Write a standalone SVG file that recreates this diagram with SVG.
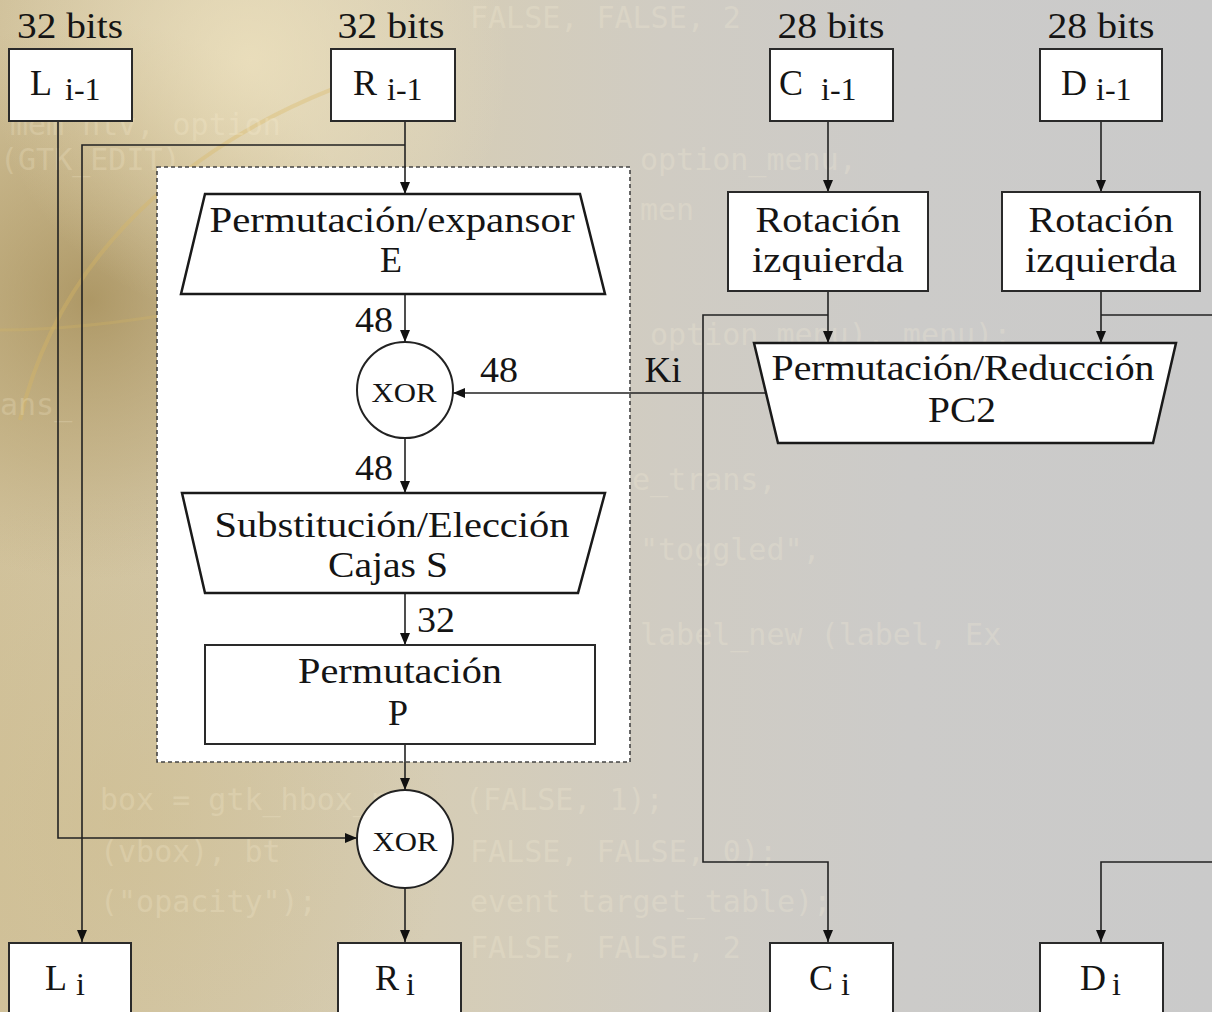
<svg xmlns="http://www.w3.org/2000/svg" width="1212" height="1012" viewBox="0 0 1212 1012">
  <defs>
    <style>
      .t { font-family: 'Liberation Serif', 'Times New Roman', Times, serif; fill: #141414; }
      .lbl { font-size: 35px; }
      .big { font-size: 36px; }
      .sub { font-size: 32px; }
      .xor { font-size: 28px; }
      .box { fill: #ffffff; stroke: #2a2a2a; stroke-width: 2; }
      .trap { fill: #ffffff; stroke: #1a1a1a; stroke-width: 2.5; stroke-linejoin: miter; }
      .wire { fill: none; stroke: #222; stroke-width: 1.6; }
      .code { font-family: 'DejaVu Sans Mono', 'Liberation Mono', monospace; font-size: 30px; fill: #fff6dc; opacity: 0.2; }
    </style>
    <marker id="arr" viewBox="0 0 12 10" refX="12" refY="5" markerWidth="12" markerHeight="10" markerUnits="userSpaceOnUse" orient="auto">
      <path d="M0,0 L12,5 L0,10 z" fill="#111"/>
    </marker>
    <linearGradient id="bgH" x1="0" y1="0" x2="1" y2="0">
      <stop offset="0" stop-color="#d1c29c"/>
      <stop offset="0.35" stop-color="#d6cdb5"/>
      <stop offset="0.55" stop-color="#d0ccc3"/>
      <stop offset="0.75" stop-color="#cccbc9"/>
      <stop offset="1" stop-color="#cacaca"/>
    </linearGradient>
    <radialGradient id="glowDark" cx="90" cy="300" r="280" gradientUnits="userSpaceOnUse">
      <stop offset="0" stop-color="#957a3e" stop-opacity="0.6"/>
      <stop offset="0.6" stop-color="#a88f55" stop-opacity="0.28"/>
      <stop offset="1" stop-color="#b09a66" stop-opacity="0"/>
    </radialGradient>
    <radialGradient id="glowLight" cx="250" cy="60" r="260" gradientUnits="userSpaceOnUse">
      <stop offset="0" stop-color="#f2e6c2" stop-opacity="0.7"/>
      <stop offset="1" stop-color="#f2e6c2" stop-opacity="0"/>
    </radialGradient>
    <radialGradient id="glowLow" cx="120" cy="820" r="330" gradientUnits="userSpaceOnUse">
      <stop offset="0" stop-color="#cdbb8a" stop-opacity="0.45"/>
      <stop offset="1" stop-color="#cdbb8a" stop-opacity="0"/>
    </radialGradient>
  </defs>

  <!-- backdrop: warm wash on the left fading to grey, faint code listing -->
  <g id="backdrop">
    <rect x="0" y="0" width="1212" height="1012" fill="url(#bgH)"/>
    <rect x="0" y="0" width="1212" height="1012" fill="url(#glowLow)"/>
    <rect x="0" y="0" width="1212" height="1012" fill="url(#glowDark)"/>
    <rect x="0" y="0" width="1212" height="1012" fill="url(#glowLight)"/>
    <path d="M20,420 C60,250 200,120 420,60" fill="none" stroke="#d9b860" stroke-opacity="0.35" stroke-width="4"/>
    <path d="M0,330 C120,330 260,300 420,260" fill="none" stroke="#d9b860" stroke-opacity="0.25" stroke-width="3"/>
    <text class="code" x="470" y="28">FALSE, FALSE, 2</text>
    <text class="code" x="10" y="135">mem  ntv, option</text>
    <text class="code" x="0" y="170">(GTK_EDIT)</text>
    <text class="code" x="640" y="170">option_menu,</text>
    <text class="code" x="640" y="220">men</text>
    <text class="code" x="650" y="345">option_menu), menu);</text>
    <text class="code" x="0" y="415">ans_</text>
    <text class="code" x="632" y="490">e_trans,</text>
    <text class="code" x="640" y="560">"toggled",</text>
    <text class="code" x="640" y="645">label_new (label, Ex</text>
    <text class="code" x="100" y="810">box = gtk_hbox_new</text>
    <text class="code" x="465" y="810">(FALSE, 1);</text>
    <text class="code" x="100" y="862">(vbox), bt</text>
    <text class="code" x="470" y="862">FALSE, FALSE, 0);</text>
    <text class="code" x="100" y="912">("opacity");</text>
    <text class="code" x="470" y="912">event target_table);</text>
    <text class="code" x="470" y="958">FALSE, FALSE, 2</text>
  </g>

  <!-- round function frame -->
  <rect id="round-frame" x="157" y="167" width="473" height="595" fill="#ffffff" stroke="#444" stroke-width="1.6" stroke-dasharray="4,3"/>

  <!-- connectors -->
  <g id="connectors">
    <!-- L(i-1) to the final XOR -->
    <path class="wire" d="M58,121 V838 H357" marker-end="url(#arr)"/>
    <!-- R(i-1) into expansion, and copy down to L(i) -->
    <path class="wire" d="M405,121 V194" marker-end="url(#arr)"/>
    <path class="wire" d="M405,145 H82 V942" marker-end="url(#arr)"/>
    <!-- inside the round function -->
    <path class="wire" d="M405,294 V342" marker-end="url(#arr)"/>
    <path class="wire" d="M405,438 V493" marker-end="url(#arr)"/>
    <path class="wire" d="M405,593 V645" marker-end="url(#arr)"/>
    <path class="wire" d="M405,744 V790" marker-end="url(#arr)"/>
    <path class="wire" d="M405,887 V942" marker-end="url(#arr)"/>
    <!-- subkey Ki -->
    <path class="wire" d="M766,393 H453" marker-end="url(#arr)"/>
    <!-- key schedule -->
    <path class="wire" d="M828,121 V192" marker-end="url(#arr)"/>
    <path class="wire" d="M1101,121 V192" marker-end="url(#arr)"/>
    <path class="wire" d="M828,291 V343" marker-end="url(#arr)"/>
    <path class="wire" d="M1101,291 V343" marker-end="url(#arr)"/>
    <path class="wire" d="M828,315 H703 V862 H828 V942" marker-end="url(#arr)"/>
    <path class="wire" d="M1101,315 H1212"/>
    <path class="wire" d="M1212,862 H1101 V942" marker-end="url(#arr)"/>
  </g>

  <!-- width labels -->
  <g id="labels">
    <text class="t lbl" x="70" y="38" text-anchor="middle" textLength="106" lengthAdjust="spacingAndGlyphs">32 bits</text>
    <text class="t lbl" x="391" y="38" text-anchor="middle" textLength="107" lengthAdjust="spacingAndGlyphs">32 bits</text>
    <text class="t lbl" x="831" y="38" text-anchor="middle" textLength="107" lengthAdjust="spacingAndGlyphs">28 bits</text>
    <text class="t lbl" x="1101" y="38" text-anchor="middle" textLength="107" lengthAdjust="spacingAndGlyphs">28 bits</text>
    <text class="t lbl" x="374" y="332" text-anchor="middle" textLength="38" lengthAdjust="spacingAndGlyphs">48</text>
    <text class="t lbl" x="499" y="382" text-anchor="middle" textLength="38" lengthAdjust="spacingAndGlyphs">48</text>
    <text class="t lbl" x="663" y="382" text-anchor="middle" textLength="37" lengthAdjust="spacingAndGlyphs">Ki</text>
    <text class="t lbl" x="374" y="480" text-anchor="middle" textLength="38" lengthAdjust="spacingAndGlyphs">48</text>
    <text class="t lbl" x="436" y="632" text-anchor="middle" textLength="38" lengthAdjust="spacingAndGlyphs">32</text>
  </g>

  <!-- input registers -->
  <g id="node-L-prev">
    <rect class="box" x="9" y="49" width="123" height="72"/>
    <text class="t big" x="30" y="95">L<tspan class="sub" x="65" dy="5">i-1</tspan></text>
  </g>
  <g id="node-R-prev">
    <rect class="box" x="331" y="49" width="124" height="72"/>
    <text class="t big" x="353" y="95">R<tspan class="sub" x="387" dy="5">i-1</tspan></text>
  </g>
  <g id="node-C-prev">
    <rect class="box" x="770" y="49" width="123" height="72"/>
    <text class="t big" x="779" y="95">C<tspan class="sub" x="821" dy="5">i-1</tspan></text>
  </g>
  <g id="node-D-prev">
    <rect class="box" x="1040" y="49" width="122" height="72"/>
    <text class="t big" x="1061" y="95">D<tspan class="sub" x="1096" dy="5">i-1</tspan></text>
  </g>

  <!-- round function -->
  <g id="node-expansion">
    <path class="trap" d="M205,194 H580 L605,294 H181 Z"/>
    <text class="t big" x="392" y="232" text-anchor="middle" textLength="365" lengthAdjust="spacingAndGlyphs">Permutación/expansor</text>
    <text class="t big" x="391" y="272" text-anchor="middle">E</text>
  </g>
  <g id="node-xor-key">
    <circle cx="405" cy="390" r="48" fill="#fff" stroke="#222" stroke-width="2"/>
    <text class="t xor" x="404" y="402" text-anchor="middle" textLength="65" lengthAdjust="spacingAndGlyphs">XOR</text>
  </g>
  <g id="node-sboxes">
    <path class="trap" d="M182,493 H605 L578,593 H205 Z"/>
    <text class="t big" x="392" y="537" text-anchor="middle" textLength="355" lengthAdjust="spacingAndGlyphs">Substitución/Elección</text>
    <text class="t big" x="388" y="577" text-anchor="middle" textLength="120" lengthAdjust="spacingAndGlyphs">Cajas S</text>
  </g>
  <g id="node-pbox">
    <rect class="box" x="205" y="645" width="390" height="99" stroke-width="2.5"/>
    <text class="t big" x="400" y="683" text-anchor="middle" textLength="204" lengthAdjust="spacingAndGlyphs">Permutación</text>
    <text class="t big" x="398" y="725" text-anchor="middle">P</text>
  </g>
  <g id="node-xor-left">
    <ellipse cx="405" cy="839" rx="48" ry="49" fill="#fff" stroke="#222" stroke-width="2"/>
    <text class="t xor" x="405" y="851" text-anchor="middle" textLength="65" lengthAdjust="spacingAndGlyphs">XOR</text>
  </g>

  <!-- key schedule -->
  <g id="node-rot-C">
    <rect class="box" x="728" y="192" width="200" height="99"/>
    <text class="t big" x="828" y="232" text-anchor="middle" textLength="145" lengthAdjust="spacingAndGlyphs">Rotación</text>
    <text class="t big" x="828" y="272" text-anchor="middle" textLength="152" lengthAdjust="spacingAndGlyphs">izquierda</text>
  </g>
  <g id="node-rot-D">
    <rect class="box" x="1002" y="192" width="198" height="99"/>
    <text class="t big" x="1101" y="232" text-anchor="middle" textLength="145" lengthAdjust="spacingAndGlyphs">Rotación</text>
    <text class="t big" x="1101" y="272" text-anchor="middle" textLength="152" lengthAdjust="spacingAndGlyphs">izquierda</text>
  </g>
  <g id="node-pc2">
    <path class="trap" d="M754,343 H1176 L1153,443 H778 Z"/>
    <text class="t big" x="963" y="380" text-anchor="middle" textLength="383" lengthAdjust="spacingAndGlyphs">Permutación/Reducción</text>
    <text class="t big" x="962" y="422" text-anchor="middle" textLength="68" lengthAdjust="spacingAndGlyphs">PC2</text>
  </g>

  <!-- output registers -->
  <g id="node-L-next">
    <rect class="box" x="9" y="943" width="122" height="90"/>
    <text class="t big" x="45" y="990">L<tspan class="sub" x="76" dy="5">i</tspan></text>
  </g>
  <g id="node-R-next">
    <rect class="box" x="338" y="943" width="123" height="90"/>
    <text class="t big" x="375" y="990">R<tspan class="sub" x="406" dy="5">i</tspan></text>
  </g>
  <g id="node-C-next">
    <rect class="box" x="770" y="943" width="123" height="90"/>
    <text class="t big" x="809" y="990">C<tspan class="sub" x="841" dy="5">i</tspan></text>
  </g>
  <g id="node-D-next">
    <rect class="box" x="1040" y="943" width="123" height="90"/>
    <text class="t big" x="1080" y="990">D<tspan class="sub" x="1112" dy="5">i</tspan></text>
  </g>
</svg>
